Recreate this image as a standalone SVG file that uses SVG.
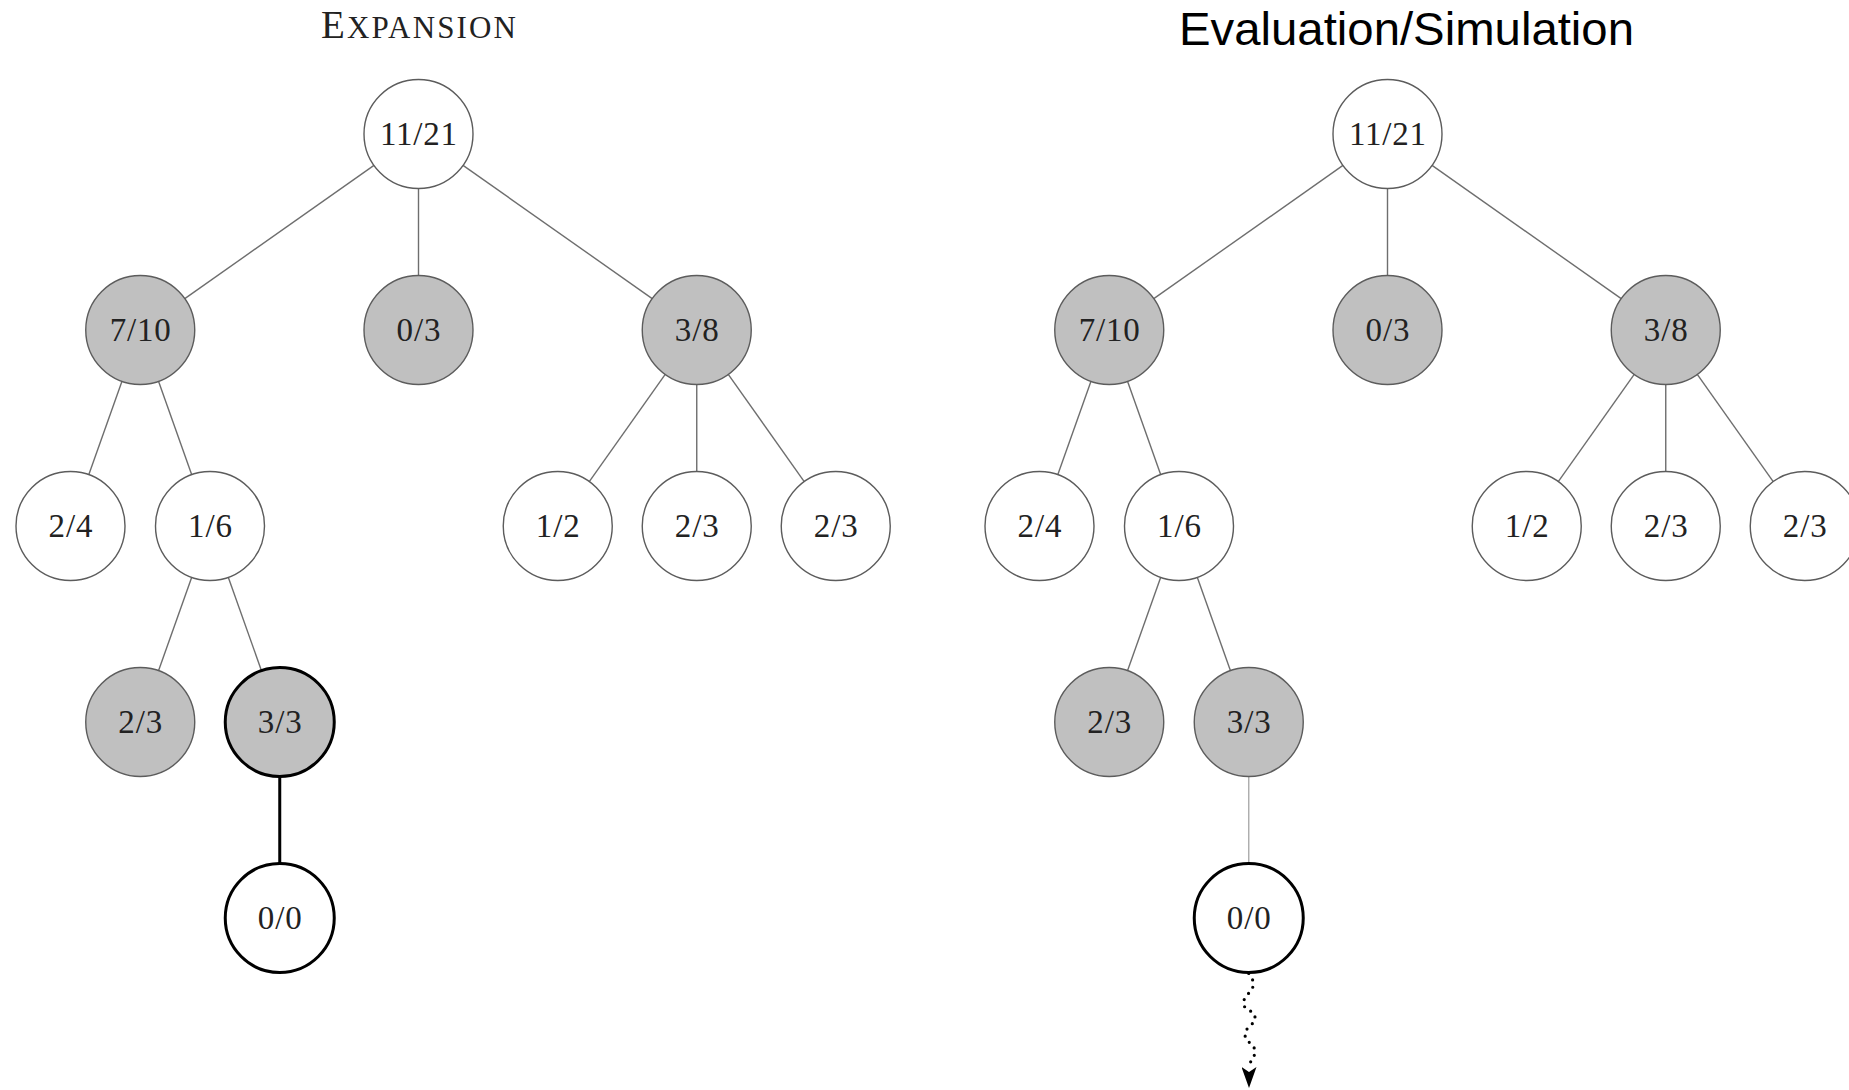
<svg xmlns="http://www.w3.org/2000/svg" width="1849" height="1090" viewBox="0 0 1849 1090">
  <defs>
    <style>
      .edge { stroke: #6e6e6e; stroke-width: 1.4; fill: none; }
      .edge-bold { stroke: #000; stroke-width: 3; fill: none; }
      .edge-light { stroke: #ababab; stroke-width: 1.4; fill: none; }
      .node { fill: #fff; stroke: #5c5c5c; stroke-width: 1.4; }
      .node.visited { fill: #c0c0c0; }
      .node.bold { stroke: #000; stroke-width: 3; }
      .lbl { font-family: "Liberation Serif", "DejaVu Serif", serif; font-size: 33px; letter-spacing: 0.8px; fill: #222; text-anchor: middle; }
      .rollout { stroke: #000; stroke-width: 3.2; stroke-linecap: round; stroke-dasharray: 0 7.5; fill: none; }
    </style>
    <marker id="stealth" markerUnits="userSpaceOnUse" viewBox="0 0 21 15" markerWidth="21" markerHeight="15" refX="1" refY="7.5" orient="auto">
      <path d="M0,0 L21,7.5 L0,15 L5,7.5 Z" fill="#000"/>
    </marker>
  </defs>

  <rect width="1849" height="1090" fill="#fff"/>

  <!-- panel titles -->
  <text x="418.5" y="37.5" text-anchor="middle" textLength="195" lengthAdjust="spacing" font-family="Liberation Serif, DejaVu Serif, serif" fill="#222"><tspan font-size="39">E</tspan><tspan font-size="31">XPANSION</tspan></text>
  <text x="1179" y="45.3" textLength="455" lengthAdjust="spacingAndGlyphs" font-family="Liberation Sans, Arial, sans-serif" font-size="46.5" fill="#000">Evaluation/Simulation</text>

  <!-- Expansion step -->
  <g id="expansion-tree">
    <g id="expansion-edges">
      <line class="edge" x1="373.95" y1="165.39" x2="184.8" y2="298.61"/>
      <line class="edge" x1="418.5" y1="188.5" x2="418.5" y2="275.5"/>
      <line class="edge" x1="463.05" y1="165.39" x2="652.2" y2="298.61"/>
      <line class="edge" x1="121.98" y1="381.35" x2="88.77" y2="474.65"/>
      <line class="edge" x1="158.52" y1="381.35" x2="191.73" y2="474.65"/>
      <line class="edge" x1="191.73" y1="577.35" x2="158.52" y2="670.65"/>
      <line class="edge" x1="228.27" y1="577.35" x2="261.48" y2="670.65"/>
      <line class="edge" x1="665.22" y1="374.45" x2="589.28" y2="481.55"/>
      <line class="edge" x1="696.75" y1="384.5" x2="696.75" y2="471.5"/>
      <line class="edge" x1="728.28" y1="374.45" x2="804.22" y2="481.55"/>
      <line class="edge-bold" x1="279.75" y1="776.5" x2="279.75" y2="863.5"/>
    </g>
    <g id="e-root"><circle class="node" cx="418.5" cy="134" r="54.5"/><text class="lbl" x="418.9" y="145">11/21</text></g>
    <g id="e-7-10"><circle class="node visited" cx="140.25" cy="330" r="54.5"/><text class="lbl" x="140.65" y="341">7/10</text></g>
    <g id="e-0-3"><circle class="node visited" cx="418.5" cy="330" r="54.5"/><text class="lbl" x="418.9" y="341">0/3</text></g>
    <g id="e-3-8"><circle class="node visited" cx="696.75" cy="330" r="54.5"/><text class="lbl" x="697.15" y="341">3/8</text></g>
    <g id="e-2-4"><circle class="node" cx="70.5" cy="526" r="54.5"/><text class="lbl" x="70.9" y="537">2/4</text></g>
    <g id="e-1-6"><circle class="node" cx="210" cy="526" r="54.5"/><text class="lbl" x="210.4" y="537">1/6</text></g>
    <g id="e-1-2"><circle class="node" cx="557.75" cy="526" r="54.5"/><text class="lbl" x="558.15" y="537">1/2</text></g>
    <g id="e-2-3a"><circle class="node" cx="696.75" cy="526" r="54.5"/><text class="lbl" x="697.15" y="537">2/3</text></g>
    <g id="e-2-3b"><circle class="node" cx="835.75" cy="526" r="54.5"/><text class="lbl" x="836.15" y="537">2/3</text></g>
    <g id="e-2-3c"><circle class="node visited" cx="140.25" cy="722" r="54.5"/><text class="lbl" x="140.65" y="733">2/3</text></g>
    <g id="e-3-3"><circle class="node visited bold" cx="279.75" cy="722" r="54.5"/><text class="lbl" x="280.15" y="733">3/3</text></g>
    <g id="e-0-0"><circle class="node bold" cx="279.75" cy="918" r="54.5"/><text class="lbl" x="280.15" y="929">0/0</text></g>
  </g>

  <!-- Evaluation / simulation step -->
  <g id="simulation-tree" transform="translate(969 0)">
    <g id="simulation-edges">
      <line class="edge" x1="373.95" y1="165.39" x2="184.8" y2="298.61"/>
      <line class="edge" x1="418.5" y1="188.5" x2="418.5" y2="275.5"/>
      <line class="edge" x1="463.05" y1="165.39" x2="652.2" y2="298.61"/>
      <line class="edge" x1="121.98" y1="381.35" x2="88.77" y2="474.65"/>
      <line class="edge" x1="158.52" y1="381.35" x2="191.73" y2="474.65"/>
      <line class="edge" x1="191.73" y1="577.35" x2="158.52" y2="670.65"/>
      <line class="edge" x1="228.27" y1="577.35" x2="261.48" y2="670.65"/>
      <line class="edge" x1="665.22" y1="374.45" x2="589.28" y2="481.55"/>
      <line class="edge" x1="696.75" y1="384.5" x2="696.75" y2="471.5"/>
      <line class="edge" x1="728.28" y1="374.45" x2="804.22" y2="481.55"/>
      <line class="edge-light" x1="279.75" y1="776.5" x2="279.75" y2="863.5"/>
      <!-- random playout from the new leaf -->
      <path class="rollout" marker-end="url(#stealth)" d="M279.75,973.5 C281,977 285,980 284.5,984 C284,992 274,996 274.5,1003.5 C275,1011 286,1010 286,1017.5 C286,1025 276,1027 276,1034.5 C276,1042 286,1044 286,1051.5 C286,1058 280,1061 280,1068"/>
    </g>
    <g id="s-root"><circle class="node" cx="418.5" cy="134" r="54.5"/><text class="lbl" x="418.9" y="145">11/21</text></g>
    <g id="s-7-10"><circle class="node visited" cx="140.25" cy="330" r="54.5"/><text class="lbl" x="140.65" y="341">7/10</text></g>
    <g id="s-0-3"><circle class="node visited" cx="418.5" cy="330" r="54.5"/><text class="lbl" x="418.9" y="341">0/3</text></g>
    <g id="s-3-8"><circle class="node visited" cx="696.75" cy="330" r="54.5"/><text class="lbl" x="697.15" y="341">3/8</text></g>
    <g id="s-2-4"><circle class="node" cx="70.5" cy="526" r="54.5"/><text class="lbl" x="70.9" y="537">2/4</text></g>
    <g id="s-1-6"><circle class="node" cx="210" cy="526" r="54.5"/><text class="lbl" x="210.4" y="537">1/6</text></g>
    <g id="s-1-2"><circle class="node" cx="557.75" cy="526" r="54.5"/><text class="lbl" x="558.15" y="537">1/2</text></g>
    <g id="s-2-3a"><circle class="node" cx="696.75" cy="526" r="54.5"/><text class="lbl" x="697.15" y="537">2/3</text></g>
    <g id="s-2-3b"><circle class="node" cx="835.75" cy="526" r="54.5"/><text class="lbl" x="836.15" y="537">2/3</text></g>
    <g id="s-2-3c"><circle class="node visited" cx="140.25" cy="722" r="54.5"/><text class="lbl" x="140.65" y="733">2/3</text></g>
    <g id="s-3-3"><circle class="node visited" cx="279.75" cy="722" r="54.5"/><text class="lbl" x="280.15" y="733">3/3</text></g>
    <g id="s-0-0"><circle class="node bold" cx="279.75" cy="918" r="54.5"/><text class="lbl" x="280.15" y="929">0/0</text></g>
  </g>
</svg>
